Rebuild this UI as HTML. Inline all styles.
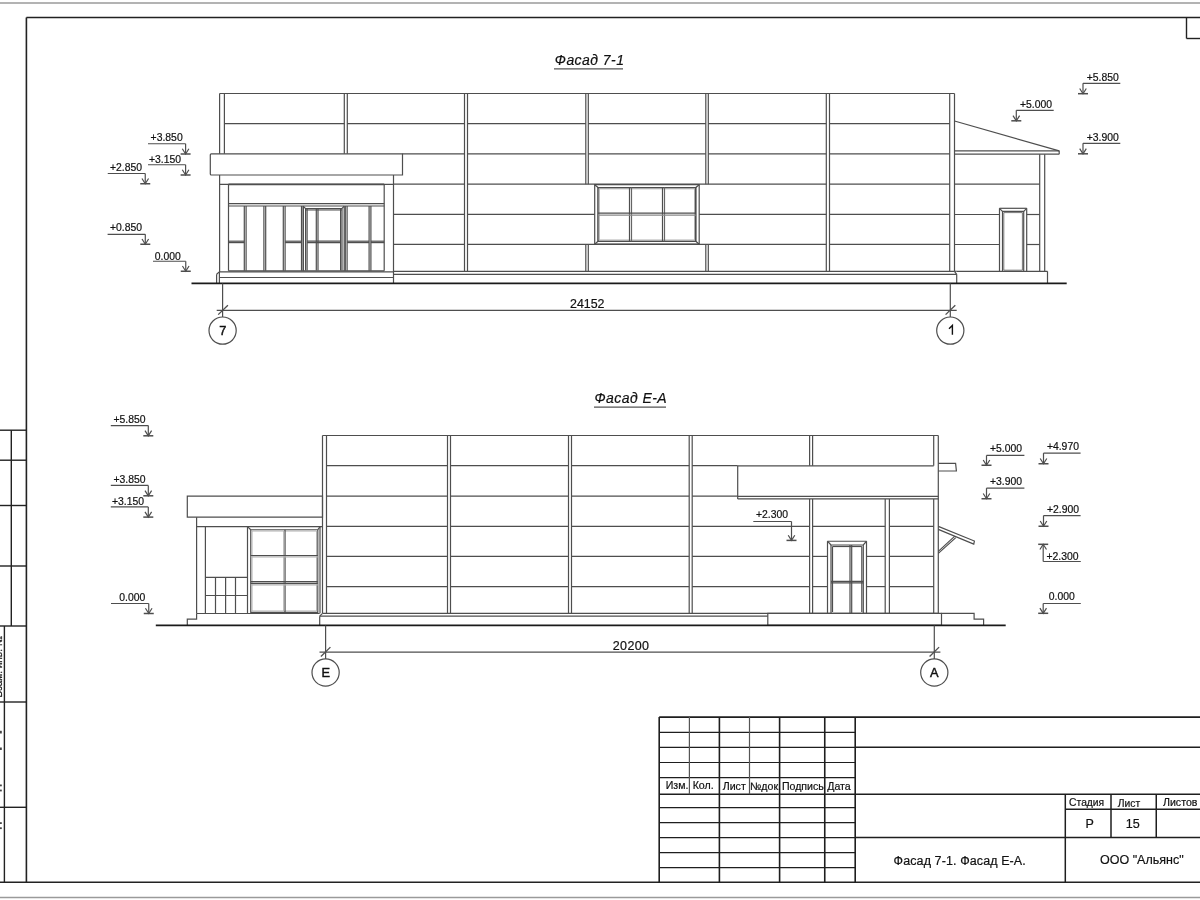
<!DOCTYPE html>
<html><head><meta charset="utf-8">
<style>
html,body{margin:0;padding:0;background:#fff;width:1200px;height:900px;overflow:hidden}
svg{display:block;will-change:transform}
text{font-family:"Liberation Sans",sans-serif;fill:#111;stroke:#111;stroke-width:0.2px}
</style></head><body>
<svg width="1200" height="900" viewBox="0 0 1200 900">
<g fill="none" stroke="#4e4e4e" stroke-width="1.2" stroke-linecap="butt">
<line x1="0" y1="3" x2="1200" y2="3" stroke-width="1.6" stroke="#9a9a9a"/>
<line x1="0" y1="897.5" x2="1200" y2="897.5" stroke-width="1.6" stroke="#9a9a9a"/>
<line x1="26.4" y1="17.5" x2="1200" y2="17.5" stroke-width="1.6" stroke="#222"/>
<line x1="26.4" y1="17.5" x2="26.4" y2="882.3" stroke-width="1.6" stroke="#222"/>
<line x1="0" y1="882.3" x2="1200" y2="882.3" stroke-width="1.6" stroke="#222"/>
<line x1="1186.5" y1="17.5" x2="1186.5" y2="38.5" stroke-width="1.4" stroke="#222"/>
<line x1="1186.5" y1="38.5" x2="1200" y2="38.5" stroke-width="1.4" stroke="#222"/>
<line x1="0" y1="430.2" x2="26.4" y2="430.2" stroke-width="1.4" stroke="#222"/>
<line x1="0" y1="460.2" x2="26.4" y2="460.2" stroke-width="1.4" stroke="#222"/>
<line x1="0" y1="505.5" x2="26.4" y2="505.5" stroke-width="1.4" stroke="#222"/>
<line x1="0" y1="566" x2="26.4" y2="566" stroke-width="1.4" stroke="#222"/>
<line x1="0" y1="626" x2="26.4" y2="626" stroke-width="1.4" stroke="#222"/>
<line x1="0" y1="702" x2="26.4" y2="702" stroke-width="1.4" stroke="#222"/>
<line x1="0" y1="807.3" x2="26.4" y2="807.3" stroke-width="1.4" stroke="#222"/>
<line x1="11.3" y1="430.2" x2="11.3" y2="626" stroke-width="1.4" stroke="#222"/>
<line x1="4.4" y1="626" x2="4.4" y2="882.3" stroke-width="1.4" stroke="#222"/>
<text x="554.8" y="65" font-size="14" font-style="italic" letter-spacing="0.45">Фасад 7-1</text>
<line x1="554" y1="68.8" x2="623" y2="68.8" stroke-width="1.3" stroke="#555"/>
<text x="594.4" y="403.3" font-size="14" font-style="italic" letter-spacing="0.45">Фасад Е-А</text>
<line x1="594" y1="407.1" x2="666" y2="407.1" stroke-width="1.3" stroke="#555"/>
<line x1="219.6" y1="93.5" x2="954.5" y2="93.5"/>
<line x1="219.6" y1="93.5" x2="219.6" y2="153.8"/>
<line x1="224.4" y1="93.5" x2="224.4" y2="153.8"/>
<line x1="344.3" y1="93.5" x2="344.3" y2="153.8"/>
<line x1="347.3" y1="93.5" x2="347.3" y2="153.8"/>
<line x1="464.5" y1="93.5" x2="464.5" y2="271.3"/>
<line x1="467.5" y1="93.5" x2="467.5" y2="271.3"/>
<line x1="585.8" y1="93.5" x2="585.8" y2="184.2"/>
<line x1="588.3" y1="93.5" x2="588.3" y2="184.2"/>
<line x1="585.8" y1="244.3" x2="585.8" y2="271.3"/>
<line x1="588.3" y1="244.3" x2="588.3" y2="271.3"/>
<line x1="705.8" y1="93.5" x2="705.8" y2="184.2"/>
<line x1="708.3" y1="93.5" x2="708.3" y2="184.2"/>
<line x1="705.8" y1="244.3" x2="705.8" y2="271.3"/>
<line x1="708.3" y1="244.3" x2="708.3" y2="271.3"/>
<line x1="826.3" y1="93.5" x2="826.3" y2="271.3"/>
<line x1="829.5" y1="93.5" x2="829.5" y2="271.3"/>
<line x1="949.7" y1="93.5" x2="949.7" y2="271.3"/>
<line x1="954.5" y1="93.5" x2="954.5" y2="271.3"/>
<line x1="224.4" y1="123.7" x2="344.3" y2="123.7"/>
<line x1="347.3" y1="123.7" x2="464.5" y2="123.7"/>
<line x1="467.5" y1="123.7" x2="585.8" y2="123.7"/>
<line x1="588.3" y1="123.7" x2="705.8" y2="123.7"/>
<line x1="708.3" y1="123.7" x2="826.3" y2="123.7"/>
<line x1="829.5" y1="123.7" x2="949.7" y2="123.7"/>
<line x1="402.5" y1="153.8" x2="464.5" y2="153.8"/>
<line x1="467.5" y1="153.8" x2="585.8" y2="153.8"/>
<line x1="588.3" y1="153.8" x2="705.8" y2="153.8"/>
<line x1="708.3" y1="153.8" x2="826.3" y2="153.8"/>
<line x1="829.5" y1="153.8" x2="949.7" y2="153.8"/>
<line x1="393.7" y1="184.2" x2="464.5" y2="184.2"/>
<line x1="467.5" y1="184.2" x2="826.3" y2="184.2"/>
<line x1="829.5" y1="184.2" x2="949.7" y2="184.2"/>
<line x1="393.7" y1="214.3" x2="464.5" y2="214.3"/>
<line x1="467.5" y1="214.3" x2="594.7" y2="214.3"/>
<line x1="699.2" y1="214.3" x2="826.3" y2="214.3"/>
<line x1="829.5" y1="214.3" x2="949.7" y2="214.3"/>
<line x1="393.7" y1="244.3" x2="464.5" y2="244.3"/>
<line x1="467.5" y1="244.3" x2="826.3" y2="244.3"/>
<line x1="829.5" y1="244.3" x2="949.7" y2="244.3"/>
<line x1="393.7" y1="271.3" x2="954.5" y2="271.3"/>
<line x1="393.7" y1="274.3" x2="956.7" y2="274.3"/>
<line x1="954.5" y1="271.3" x2="956.7" y2="274.3"/>
<path d="M211.3 153.8H402.5V175H211.3Q210.3 175 210.3 174V154.8Q210.3 153.8 211.3 153.8Z"/>
<line x1="219.6" y1="175" x2="219.6" y2="271.9"/>
<line x1="393.5" y1="175" x2="393.5" y2="283.3"/>
<line x1="219.6" y1="184.4" x2="393.5" y2="184.4"/>
<line x1="228.5" y1="184.4" x2="384.2" y2="184.4" stroke-width="1.6"/>
<line x1="228.5" y1="184.4" x2="228.5" y2="270.8"/>
<line x1="384.2" y1="184.4" x2="384.2" y2="270.8"/>
<line x1="228.5" y1="270.8" x2="384.2" y2="270.8"/>
<line x1="228.5" y1="203.7" x2="384.2" y2="203.7"/>
<line x1="228.5" y1="206.0" x2="384.2" y2="206.0"/>
<line x1="244.3" y1="206" x2="244.3" y2="270.8"/>
<line x1="246.10000000000002" y1="206" x2="246.10000000000002" y2="270.8"/>
<line x1="263.9" y1="206" x2="263.9" y2="270.8"/>
<line x1="265.7" y1="206" x2="265.7" y2="270.8"/>
<line x1="283.3" y1="206" x2="283.3" y2="270.8"/>
<line x1="285.1" y1="206" x2="285.1" y2="270.8"/>
<line x1="301.5" y1="206" x2="301.5" y2="270.8"/>
<line x1="303.3" y1="206" x2="303.3" y2="270.8"/>
<line x1="345.3" y1="206" x2="345.3" y2="270.8"/>
<line x1="347.1" y1="206" x2="347.1" y2="270.8"/>
<line x1="369.1" y1="206" x2="369.1" y2="270.8"/>
<line x1="370.90000000000003" y1="206" x2="370.90000000000003" y2="270.8"/>
<line x1="228.5" y1="241.2" x2="244.3" y2="241.2"/>
<line x1="228.5" y1="242.6" x2="244.3" y2="242.6"/>
<line x1="285.1" y1="241.2" x2="301.5" y2="241.2"/>
<line x1="285.1" y1="242.6" x2="301.5" y2="242.6"/>
<line x1="347.1" y1="241.2" x2="369.1" y2="241.2"/>
<line x1="347.1" y1="242.6" x2="369.1" y2="242.6"/>
<line x1="370.9" y1="241.2" x2="384.2" y2="241.2"/>
<line x1="370.9" y1="242.6" x2="384.2" y2="242.6"/>
<path d="M303.2 206.2L305.6 208.7H341.8L344.2 206.2"/>
<line x1="303.2" y1="206.2" x2="303.2" y2="270.8"/>
<line x1="344.2" y1="206.2" x2="344.2" y2="270.8"/>
<line x1="305.6" y1="208.7" x2="305.6" y2="270.5"/>
<line x1="307.1" y1="208.7" x2="307.1" y2="270.5"/>
<line x1="340.6" y1="208.7" x2="340.6" y2="270.5"/>
<line x1="342.0" y1="208.7" x2="342.0" y2="270.5"/>
<line x1="316.3" y1="208.7" x2="316.3" y2="270.5"/>
<line x1="318.0" y1="208.7" x2="318.0" y2="270.5"/>
<line x1="305.6" y1="210.0" x2="342" y2="210.0"/>
<line x1="307.1" y1="241.2" x2="340.6" y2="241.2"/>
<line x1="307.1" y1="242.6" x2="340.6" y2="242.6"/>
<line x1="216.6" y1="274.2" x2="216.6" y2="283.3"/>
<path d="M216.6 274.2L219.4 271.9H393.5"/>
<line x1="219.4" y1="271.9" x2="219.4" y2="283.3"/>
<line x1="219.4" y1="277.5" x2="393.5" y2="277.5"/>
<path d="M594.7 184.7H699.2V244.2H594.7Z"/>
<path d="M598.0 187.8H695.8V241.3H598.0Z" stroke-width="1.6"/>
<line x1="594.7" y1="184.7" x2="598.0" y2="187.5"/>
<line x1="699.2" y1="184.7" x2="695.8" y2="187.5"/>
<line x1="594.7" y1="244.2" x2="598.0" y2="241.3"/>
<line x1="699.2" y1="244.2" x2="695.8" y2="241.3"/>
<path d="M599.3 188.8H694.5V240.0H599.3Z" stroke-width="1.0" stroke="#b0b0b0"/>
<line x1="629.5" y1="187.5" x2="629.5" y2="241.3"/>
<line x1="631.5" y1="187.5" x2="631.5" y2="241.3" stroke="#666"/>
<line x1="662.5" y1="187.5" x2="662.5" y2="241.3"/>
<line x1="664.5" y1="187.5" x2="664.5" y2="241.3" stroke="#666"/>
<line x1="598" y1="213.2" x2="695.8" y2="213.2"/>
<line x1="598" y1="215.2" x2="695.8" y2="215.2" stroke="#888"/>
<line x1="954.5" y1="121" x2="1059.2" y2="150.8"/>
<line x1="954.5" y1="150.8" x2="1059.2" y2="150.8"/>
<line x1="954.5" y1="154.2" x2="1059.2" y2="154.2"/>
<line x1="1059.2" y1="150.8" x2="1059.2" y2="154.2"/>
<line x1="1039.7" y1="154.2" x2="1039.7" y2="271.3"/>
<line x1="1044.7" y1="154.2" x2="1044.7" y2="271.3"/>
<line x1="954.5" y1="184.2" x2="1039.7" y2="184.2"/>
<line x1="954.5" y1="214.5" x2="999.5" y2="214.5"/>
<line x1="1026.7" y1="214.5" x2="1039.7" y2="214.5"/>
<line x1="954.5" y1="244.5" x2="999.5" y2="244.5"/>
<line x1="1026.7" y1="244.5" x2="1039.7" y2="244.5"/>
<line x1="999.5" y1="208.3" x2="999.5" y2="271.3"/>
<line x1="1026.7" y1="208.3" x2="1026.7" y2="271.3"/>
<line x1="999.5" y1="208.3" x2="1026.7" y2="208.3"/>
<path d="M999.5 208.3L1002.5 211.3H1023.7L1026.7 208.3"/>
<line x1="1002.5" y1="211.3" x2="1002.5" y2="271.3"/>
<line x1="1023.7" y1="211.3" x2="1023.7" y2="271.3"/>
<path d="M1003.8 212.6H1022.4V270.2H1003.8Z" stroke-width="0.8" stroke="#555"/>
<line x1="956.7" y1="274.3" x2="956.7" y2="283.3"/>
<line x1="956.7" y1="271.3" x2="1047.5" y2="271.3"/>
<line x1="1047.5" y1="271.3" x2="1047.5" y2="283.3"/>
<line x1="954.5" y1="271.3" x2="956.7" y2="271.3"/>
<line x1="191.5" y1="283.4" x2="1066.7" y2="283.4" stroke-width="1.8" stroke="#1a1a1a"/>
<line x1="216.7" y1="310.4" x2="956.7" y2="310.4"/>
<line x1="222.6" y1="283.4" x2="222.6" y2="316.9"/>
<line x1="950.3" y1="283.4" x2="950.3" y2="316.9"/>
<line x1="218.2" y1="314.6" x2="227.9" y2="305.2" stroke-width="1.3"/>
<line x1="945.6" y1="314.6" x2="955.3" y2="305.2" stroke-width="1.3"/>
<text x="570.0" y="307.5" font-size="12.4">24152</text>
<circle cx="222.6" cy="330.6" r="13.6"/>
<circle cx="950.3" cy="330.6" r="13.6"/>
<text x="222.9" y="335.2" font-size="12.8" text-anchor="middle" style="stroke-width:0.45px">7</text>
<path d="M949.0 328.8L952.4 325.5V334.8" stroke-width="1.4" stroke="#111"/>
<line x1="148" y1="143.75" x2="185.6" y2="143.75"/>
<line x1="185.6" y1="143.75" x2="185.6" y2="154"/>
<line x1="180.6" y1="154" x2="190.6" y2="154" stroke-width="1.5"/>
<path d="M182.29999999999998 148.8L185.6 154L188.9 148.8"/>
<text x="150.6" y="140.6" font-size="10.4">+3.850</text>
<line x1="148" y1="164.75" x2="185.6" y2="164.75"/>
<line x1="185.6" y1="164.75" x2="185.6" y2="175"/>
<line x1="180.6" y1="175" x2="190.6" y2="175" stroke-width="1.5"/>
<path d="M182.29999999999998 169.8L185.6 175L188.9 169.8"/>
<text x="149" y="162.5" font-size="10.4">+3.150</text>
<line x1="107.75" y1="173.5" x2="145.25" y2="173.5"/>
<line x1="145.25" y1="173.5" x2="145.25" y2="183.75"/>
<line x1="140.25" y1="183.75" x2="150.25" y2="183.75" stroke-width="1.5"/>
<path d="M141.95 178.55L145.25 183.75L148.55 178.55"/>
<text x="110" y="170.6" font-size="10.4">+2.850</text>
<line x1="107.6" y1="234.3" x2="145.3" y2="234.3"/>
<line x1="145.3" y1="234.3" x2="145.3" y2="244.25"/>
<line x1="140.3" y1="244.25" x2="150.3" y2="244.25" stroke-width="1.5"/>
<path d="M142.0 239.05L145.3 244.25L148.60000000000002 239.05"/>
<text x="110" y="231.25" font-size="10.4">+0.850</text>
<line x1="153" y1="261.25" x2="185.75" y2="261.25"/>
<line x1="185.75" y1="261.25" x2="185.75" y2="271.25"/>
<line x1="180.75" y1="271.25" x2="190.75" y2="271.25" stroke-width="1.5"/>
<path d="M182.45 266.05L185.75 271.25L189.05 266.05"/>
<text x="154.75" y="259.5" font-size="10.4">0.000</text>
<line x1="1083" y1="83.3" x2="1120.3" y2="83.3"/>
<line x1="1083" y1="83.3" x2="1083" y2="93.7"/>
<line x1="1078" y1="93.7" x2="1088" y2="93.7" stroke-width="1.5"/>
<path d="M1079.7 88.5L1083 93.7L1086.3 88.5"/>
<text x="1086.7" y="80.8" font-size="10.4">+5.850</text>
<line x1="1016.3" y1="110.3" x2="1053.7" y2="110.3"/>
<line x1="1016.3" y1="110.3" x2="1016.3" y2="120.8"/>
<line x1="1011.3" y1="120.8" x2="1021.3" y2="120.8" stroke-width="1.5"/>
<path d="M1013.0 115.6L1016.3 120.8L1019.5999999999999 115.6"/>
<text x="1020" y="107.5" font-size="10.4">+5.000</text>
<line x1="1083" y1="143.3" x2="1120.3" y2="143.3"/>
<line x1="1083" y1="143.3" x2="1083" y2="153.8"/>
<line x1="1078" y1="153.8" x2="1088" y2="153.8" stroke-width="1.5"/>
<path d="M1079.7 148.60000000000002L1083 153.8L1086.3 148.60000000000002"/>
<text x="1086.7" y="140.8" font-size="10.4">+3.900</text>
<line x1="322.5" y1="435.5" x2="938.3" y2="435.5"/>
<line x1="322.5" y1="435.5" x2="322.5" y2="613.3"/>
<line x1="326.5" y1="435.5" x2="326.5" y2="613.3"/>
<line x1="933.7" y1="435.5" x2="933.7" y2="465.8"/>
<line x1="933.7" y1="498.9" x2="933.7" y2="613.3"/>
<line x1="938.3" y1="435.5" x2="938.3" y2="613.3"/>
<line x1="447.5" y1="435.5" x2="447.5" y2="613.3"/>
<line x1="450.5" y1="435.5" x2="450.5" y2="613.3"/>
<line x1="568.5" y1="435.5" x2="568.5" y2="613.3"/>
<line x1="571.5" y1="435.5" x2="571.5" y2="613.3"/>
<line x1="689.2" y1="435.5" x2="689.2" y2="613.3"/>
<line x1="692.2" y1="435.5" x2="692.2" y2="613.3"/>
<line x1="809.6" y1="435.5" x2="809.6" y2="465.8"/>
<line x1="812.6" y1="435.5" x2="812.6" y2="465.8"/>
<line x1="809.6" y1="498.9" x2="809.6" y2="613.3"/>
<line x1="812.6" y1="498.9" x2="812.6" y2="613.3"/>
<line x1="885.2" y1="498.9" x2="885.2" y2="613.3"/>
<line x1="889.4" y1="498.9" x2="889.4" y2="613.3"/>
<line x1="326.5" y1="465.7" x2="447.5" y2="465.7"/>
<line x1="450.5" y1="465.7" x2="568.5" y2="465.7"/>
<line x1="571.5" y1="465.7" x2="689.2" y2="465.7"/>
<line x1="692.2" y1="465.7" x2="737.7" y2="465.7"/>
<line x1="326.5" y1="496.2" x2="447.5" y2="496.2"/>
<line x1="450.5" y1="496.2" x2="568.5" y2="496.2"/>
<line x1="571.5" y1="496.2" x2="689.2" y2="496.2"/>
<line x1="692.2" y1="496.2" x2="737.7" y2="496.2"/>
<line x1="326.5" y1="526.4" x2="447.5" y2="526.4"/>
<line x1="450.5" y1="526.4" x2="568.5" y2="526.4"/>
<line x1="571.5" y1="526.4" x2="689.2" y2="526.4"/>
<line x1="692.2" y1="526.4" x2="809.6" y2="526.4"/>
<line x1="812.6" y1="526.4" x2="885.2" y2="526.4"/>
<line x1="889.4" y1="526.4" x2="933.7" y2="526.4"/>
<line x1="326.5" y1="556.4" x2="447.5" y2="556.4"/>
<line x1="450.5" y1="556.4" x2="568.5" y2="556.4"/>
<line x1="571.5" y1="556.4" x2="689.2" y2="556.4"/>
<line x1="692.2" y1="556.4" x2="809.6" y2="556.4"/>
<line x1="812.6" y1="556.4" x2="827.5" y2="556.4"/>
<line x1="866.5" y1="556.4" x2="885.2" y2="556.4"/>
<line x1="889.4" y1="556.4" x2="933.7" y2="556.4"/>
<line x1="326.5" y1="586.6" x2="447.5" y2="586.6"/>
<line x1="450.5" y1="586.6" x2="568.5" y2="586.6"/>
<line x1="571.5" y1="586.6" x2="689.2" y2="586.6"/>
<line x1="692.2" y1="586.6" x2="809.6" y2="586.6"/>
<line x1="812.6" y1="586.6" x2="827.5" y2="586.6"/>
<line x1="866.5" y1="586.6" x2="885.2" y2="586.6"/>
<line x1="889.4" y1="586.6" x2="933.7" y2="586.6"/>
<line x1="322.5" y1="613.3" x2="938.3" y2="613.3"/>
<line x1="737.7" y1="465.8" x2="933.7" y2="465.8"/>
<line x1="737.7" y1="465.8" x2="737.7" y2="498.9"/>
<line x1="737.7" y1="496.3" x2="938.3" y2="496.3"/>
<line x1="737.7" y1="498.9" x2="938.3" y2="498.9"/>
<path d="M938.3 463.4H955.6L956.4 471H938.3"/>
<path d="M938.3 526.4L974.4 541L973.75 544.1L938.3 529.4"/>
<line x1="938.3" y1="551.4" x2="954.8" y2="536.1"/>
<line x1="938.3" y1="553.4" x2="955.8" y2="537.6"/>
<line x1="827.5" y1="541.25" x2="827.5" y2="613.3"/>
<line x1="866.5" y1="541.25" x2="866.5" y2="613.3"/>
<line x1="827.5" y1="541.25" x2="866.5" y2="541.25"/>
<path d="M827.5 541.25L831 545H863.3L866.5 541.25"/>
<line x1="831" y1="545" x2="831" y2="613.3"/>
<line x1="863.3" y1="545" x2="863.3" y2="613.3"/>
<line x1="832.5" y1="546.5" x2="832.5" y2="612"/>
<line x1="861.8" y1="546.5" x2="861.8" y2="612"/>
<line x1="832.5" y1="546.5" x2="861.8" y2="546.5"/>
<line x1="850.0" y1="545" x2="850.0" y2="613.3"/>
<line x1="851.7" y1="545" x2="851.7" y2="613.3"/>
<line x1="831" y1="581.3" x2="863.3" y2="581.3"/>
<line x1="831" y1="582.8" x2="863.3" y2="582.8"/>
<line x1="319.7" y1="616.2" x2="767.8" y2="616.2"/>
<line x1="319.7" y1="616.2" x2="319.7" y2="625.3"/>
<path d="M319.7 616.2L322.5 613.3"/>
<path d="M767.8 613.3H941.5V625.3H767.8Z"/>
<path d="M941.5 613.3H974.1V619.2H983.6V625.3"/>
<path d="M187.3 496.2H322.5V517.2H187.3Z"/>
<line x1="196.6" y1="517.2" x2="196.6" y2="613.5"/>
<line x1="196.6" y1="526.6" x2="322.5" y2="526.6"/>
<line x1="205.4" y1="526.6" x2="205.4" y2="613.5"/>
<line x1="247.5" y1="526.6" x2="247.5" y2="613.3"/>
<line x1="320.0" y1="526.6" x2="320.0" y2="613.3"/>
<line x1="247.5" y1="526.6" x2="250.75" y2="529.75"/>
<line x1="320.0" y1="526.6" x2="317.8" y2="529.75"/>
<path d="M250.75 529.75H317.8V612.3H250.75Z"/>
<path d="M252.0 531.0H316.6V611.0H252.0Z" stroke-width="1.0" stroke="#b0b0b0"/>
<line x1="285.0" y1="529.75" x2="285.0" y2="612.3" stroke-width="1.3"/>
<line x1="283.8" y1="531" x2="283.8" y2="611" stroke="#b0b0b0"/>
<line x1="250.75" y1="555.5" x2="317.8" y2="555.5"/>
<line x1="250.75" y1="556.8" x2="317.8" y2="556.8" stroke="#b0b0b0"/>
<line x1="250.75" y1="581.7" x2="317.8" y2="581.7"/>
<line x1="250.75" y1="583.3" x2="317.8" y2="583.3"/>
<line x1="250.75" y1="584.8" x2="317.8" y2="584.8" stroke="#b0b0b0"/>
<line x1="205.4" y1="577.4" x2="247.5" y2="577.4"/>
<line x1="205.4" y1="595.5" x2="247.5" y2="595.5"/>
<line x1="215.5" y1="577.4" x2="215.5" y2="613.5"/>
<line x1="225.6" y1="577.4" x2="225.6" y2="613.5"/>
<line x1="235.5" y1="577.4" x2="235.5" y2="613.5"/>
<line x1="196.6" y1="613.5" x2="319.7" y2="613.5"/>
<path d="M196.6 613.5V619.1H187.3V625.4"/>
<line x1="155.8" y1="625.4" x2="1005.7" y2="625.4" stroke-width="1.8" stroke="#1a1a1a"/>
<line x1="319.5" y1="652.2" x2="940.4" y2="652.2"/>
<line x1="325.6" y1="625.4" x2="325.6" y2="658.9"/>
<line x1="934.3" y1="625.4" x2="934.3" y2="658.9"/>
<line x1="320.9" y1="656.5" x2="330.4" y2="647.1" stroke-width="1.3"/>
<line x1="929.6" y1="656.5" x2="939.1" y2="647.1" stroke-width="1.3"/>
<text x="612.7" y="649.6" font-size="12.5" letter-spacing="0.4">20200</text>
<circle cx="325.6" cy="672.5" r="13.6"/>
<circle cx="934.3" cy="672.5" r="13.6"/>
<text x="325.8" y="677.1" font-size="12.8" text-anchor="middle" style="stroke-width:0.45px">Е</text>
<text x="934.3" y="677.1" font-size="12.8" text-anchor="middle" style="stroke-width:0.45px">А</text>
<line x1="110.8" y1="425.6" x2="148.3" y2="425.6"/>
<line x1="148.3" y1="425.6" x2="148.3" y2="435.8"/>
<line x1="143.3" y1="435.8" x2="153.3" y2="435.8" stroke-width="1.5"/>
<path d="M145.0 430.6L148.3 435.8L151.60000000000002 430.6"/>
<text x="113.5" y="422.5" font-size="10.4">+5.850</text>
<line x1="110.8" y1="485.4" x2="148.3" y2="485.4"/>
<line x1="148.3" y1="485.4" x2="148.3" y2="495.8"/>
<line x1="143.3" y1="495.8" x2="153.3" y2="495.8" stroke-width="1.5"/>
<path d="M145.0 490.6L148.3 495.8L151.60000000000002 490.6"/>
<text x="113.5" y="482.7" font-size="10.4">+3.850</text>
<line x1="110.8" y1="506.9" x2="148.3" y2="506.9"/>
<line x1="148.3" y1="506.9" x2="148.3" y2="517.1"/>
<line x1="143.3" y1="517.1" x2="153.3" y2="517.1" stroke-width="1.5"/>
<path d="M145.0 511.90000000000003L148.3 517.1L151.60000000000002 511.90000000000003"/>
<text x="112" y="504.6" font-size="10.4">+3.150</text>
<line x1="111" y1="603.5" x2="148.75" y2="603.5"/>
<line x1="148.75" y1="603.5" x2="148.75" y2="613.5"/>
<line x1="143.75" y1="613.5" x2="153.75" y2="613.5" stroke-width="1.5"/>
<path d="M145.45 608.3L148.75 613.5L152.05 608.3"/>
<text x="119.25" y="600.75" font-size="10.4">0.000</text>
<line x1="753.3" y1="521.5" x2="791.5" y2="521.5"/>
<line x1="791.5" y1="521.5" x2="791.5" y2="540.4"/>
<line x1="786.5" y1="540.4" x2="796.5" y2="540.4" stroke-width="1.5"/>
<path d="M788.2 535.1999999999999L791.5 540.4L794.8 535.1999999999999"/>
<text x="756" y="518.3" font-size="10.4">+2.300</text>
<line x1="986.5" y1="455.4" x2="1024.4" y2="455.4"/>
<line x1="986.5" y1="455.4" x2="986.5" y2="465.25"/>
<line x1="981.5" y1="465.25" x2="991.5" y2="465.25" stroke-width="1.5"/>
<path d="M983.2 460.05L986.5 465.25L989.8 460.05"/>
<text x="990" y="452.25" font-size="10.4">+5.000</text>
<line x1="1043.5" y1="453.1" x2="1080.6" y2="453.1"/>
<line x1="1043.5" y1="453.1" x2="1043.5" y2="463.75"/>
<line x1="1038.5" y1="463.75" x2="1048.5" y2="463.75" stroke-width="1.5"/>
<path d="M1040.2 458.55L1043.5 463.75L1046.8 458.55"/>
<text x="1046.9" y="450.25" font-size="10.4">+4.970</text>
<line x1="986.5" y1="488.1" x2="1024.4" y2="488.1"/>
<line x1="986.5" y1="488.1" x2="986.5" y2="498.75"/>
<line x1="981.5" y1="498.75" x2="991.5" y2="498.75" stroke-width="1.5"/>
<path d="M983.2 493.55L986.5 498.75L989.8 493.55"/>
<text x="990" y="485.25" font-size="10.4">+3.900</text>
<line x1="1043.5" y1="515.6" x2="1080.6" y2="515.6"/>
<line x1="1043.5" y1="515.6" x2="1043.5" y2="526.25"/>
<line x1="1038.5" y1="526.25" x2="1048.5" y2="526.25" stroke-width="1.5"/>
<path d="M1040.2 521.05L1043.5 526.25L1046.8 521.05"/>
<text x="1047" y="512.5" font-size="10.4">+2.900</text>
<line x1="1043.2" y1="561.5" x2="1080.8" y2="561.5"/>
<line x1="1043.2" y1="561.5" x2="1043.2" y2="544.3"/>
<line x1="1038.2" y1="544.3" x2="1048.2" y2="544.3" stroke-width="1.5"/>
<path d="M1039.9 549.5L1043.2 544.3L1046.5 549.5"/>
<text x="1046.5" y="559.5" font-size="10.4">+2.300</text>
<line x1="1043.2" y1="603.5" x2="1080.8" y2="603.5"/>
<line x1="1043.2" y1="603.5" x2="1043.2" y2="613.3"/>
<line x1="1038.2" y1="613.3" x2="1048.2" y2="613.3" stroke-width="1.5"/>
<path d="M1039.9 608.0999999999999L1043.2 613.3L1046.5 608.0999999999999"/>
<text x="1048.8" y="600.2" font-size="10.4">0.000</text>
<line x1="659.2" y1="732.4" x2="855.2" y2="732.4" stroke-width="1.2" stroke="#1e1e1e"/>
<line x1="659.2" y1="747.4" x2="855.2" y2="747.4" stroke-width="1.2" stroke="#1e1e1e"/>
<line x1="659.2" y1="762.5" x2="855.2" y2="762.5" stroke-width="1.2" stroke="#1e1e1e"/>
<line x1="659.2" y1="777.6" x2="855.2" y2="777.6" stroke-width="1.2" stroke="#1e1e1e"/>
<line x1="659.2" y1="717.1" x2="1200" y2="717.1" stroke-width="1.6" stroke="#1e1e1e"/>
<line x1="659.2" y1="794.2" x2="1200" y2="794.2" stroke-width="1.6" stroke="#1e1e1e"/>
<line x1="659.2" y1="807.6" x2="855.2" y2="807.6" stroke-width="1.2" stroke="#1e1e1e"/>
<line x1="659.2" y1="822.7" x2="855.2" y2="822.7" stroke-width="1.2" stroke="#1e1e1e"/>
<line x1="659.2" y1="837.6" x2="855.2" y2="837.6" stroke-width="1.2" stroke="#1e1e1e"/>
<line x1="659.2" y1="852.7" x2="855.2" y2="852.7" stroke-width="1.2" stroke="#1e1e1e"/>
<line x1="659.2" y1="867.6" x2="855.2" y2="867.6" stroke-width="1.2" stroke="#1e1e1e"/>
<line x1="659.2" y1="717.1" x2="659.2" y2="882.3" stroke-width="1.6" stroke="#1e1e1e"/>
<line x1="719.4" y1="717.1" x2="719.4" y2="882.3" stroke-width="1.6" stroke="#1e1e1e"/>
<line x1="779.6" y1="717.1" x2="779.6" y2="882.3" stroke-width="1.6" stroke="#1e1e1e"/>
<line x1="824.75" y1="717.1" x2="824.75" y2="882.3" stroke-width="1.6" stroke="#1e1e1e"/>
<line x1="855.2" y1="717.1" x2="855.2" y2="882.3" stroke-width="1.6" stroke="#1e1e1e"/>
<line x1="689.4" y1="717.1" x2="689.4" y2="794.2" stroke="#555"/>
<line x1="749.5" y1="717.1" x2="749.5" y2="794.2" stroke="#555"/>
<line x1="855.2" y1="747.3" x2="1200" y2="747.3" stroke-width="1.5" stroke="#1e1e1e"/>
<line x1="855.2" y1="837.4" x2="1200" y2="837.4" stroke-width="1.5" stroke="#1e1e1e"/>
<line x1="1065.3" y1="794.2" x2="1065.3" y2="882.3" stroke-width="1.5" stroke="#1e1e1e"/>
<line x1="1111" y1="794.2" x2="1111" y2="837.4" stroke-width="1.5" stroke="#1e1e1e"/>
<line x1="1156.25" y1="794.2" x2="1156.25" y2="837.4" stroke-width="1.5" stroke="#1e1e1e"/>
<line x1="1065.3" y1="809.25" x2="1200" y2="809.25" stroke-width="1.4" stroke="#1e1e1e"/>
<text x="665.7" y="789.4" font-size="10.6">Изм.</text>
<text x="692.7" y="789.4" font-size="10.6">Кол.</text>
<text x="722.75" y="789.6" font-size="10.6">Лист</text>
<text x="750" y="789.6" font-size="10.6">№док.</text>
<text x="781.9" y="790" font-size="10.6">Подпись</text>
<text x="827.25" y="790" font-size="10.6">Дата</text>
<text x="1069.1" y="805.75" font-size="10.3">Стадия</text>
<text x="1117.75" y="806.9" font-size="10.3">Лист</text>
<text x="1163.0" y="805.75" font-size="10.6">Листов</text>
<text x="1089.6" y="827.6" font-size="12.5" text-anchor="middle">Р</text>
<text x="1132.7" y="827.6" font-size="12.6" text-anchor="middle">15</text>
<text x="893.6" y="864.7" font-size="12.5" letter-spacing="0.1">Фасад 7-1. Фасад Е-А.</text>
<text x="1100.0" y="863.6" font-size="12.5">ООО "Альянс"</text>
<text x="0" y="0" font-size="10" transform="translate(1.7 697.5) rotate(-90)">Взам. инв. №</text>
<rect x="0" y="730.8" width="1.8" height="2.7" fill="#444" stroke="none"/>
<rect x="0" y="747.5" width="1.8" height="2.5" fill="#444" stroke="none"/>
<rect x="0" y="784.5" width="1.8" height="1.8" fill="#444" stroke="none"/>
<rect x="0" y="789.6" width="1.8" height="1.8" fill="#444" stroke="none"/>
<rect x="0" y="822.2" width="1.8" height="1.8" fill="#444" stroke="none"/>
<rect x="0" y="827.3" width="1.8" height="1.8" fill="#444" stroke="none"/>
</g>
</svg>
</body></html>
